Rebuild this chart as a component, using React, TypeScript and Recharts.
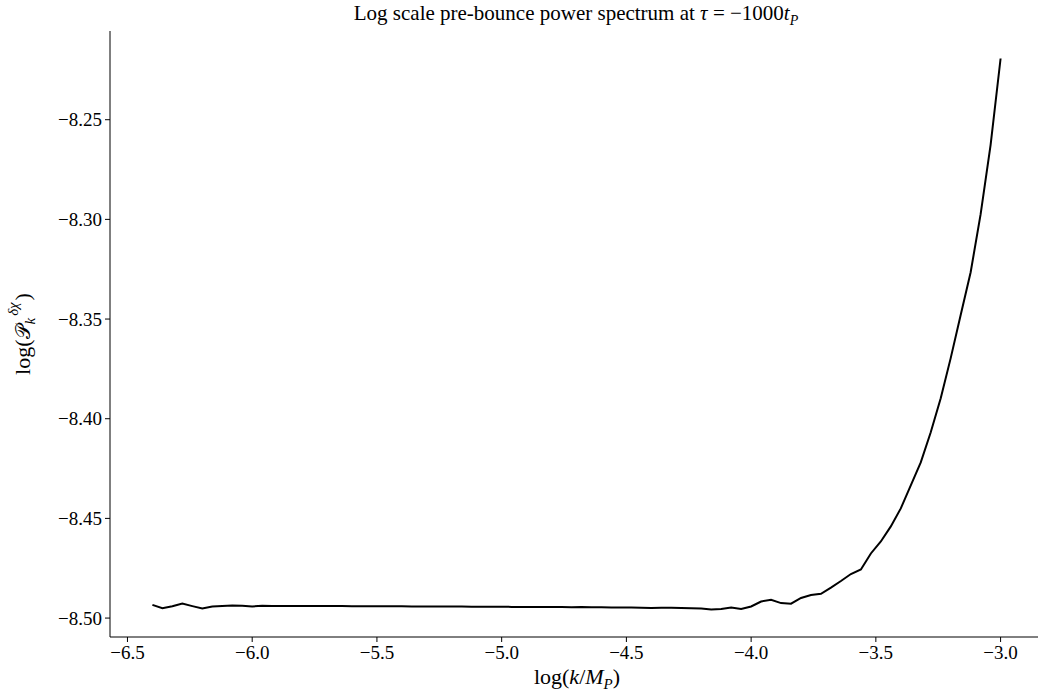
import React from 'react'
import { LineChart, Line, XAxis, YAxis } from 'recharts'

// log(k/M_P) sample points
const logK = [
  -6.4, -6.36, -6.32, -6.28, -6.24, -6.2, -6.16, -6.12, -6.08, -6.04,
  -6.0, -5.96, -5.92, -5.88, -5.84, -5.8, -5.76, -5.72, -5.68, -5.64,
  -5.6, -5.56, -5.52, -5.48, -5.44, -5.4, -5.36, -5.32, -5.28, -5.24,
  -5.2, -5.16, -5.12, -5.08, -5.04, -5.0, -4.96, -4.92, -4.88, -4.84,
  -4.8, -4.76, -4.72, -4.68, -4.64, -4.6, -4.56, -4.52, -4.48, -4.44,
  -4.4, -4.36, -4.32, -4.28, -4.24, -4.2, -4.16, -4.12, -4.08, -4.04,
  -4.0, -3.96, -3.92, -3.88, -3.84, -3.8, -3.76, -3.72, -3.68, -3.64,
  -3.6, -3.56, -3.52, -3.48, -3.44, -3.4, -3.36, -3.32, -3.28, -3.24,
  -3.2, -3.16, -3.12, -3.08, -3.04, -3.0,
]

// log of the power spectrum
const logPk = [
  -8.4934, -8.4951, -8.4941, -8.4927, -8.494, -8.4952, -8.4942, -8.4939, -8.4937, -8.4938,
  -8.4942, -8.4938, -8.4939, -8.494, -8.4939, -8.494, -8.494, -8.494, -8.494, -8.494,
  -8.4941, -8.4941, -8.4941, -8.4941, -8.4941, -8.4941, -8.4942, -8.4942, -8.4942, -8.4942,
  -8.4942, -8.4942, -8.4943, -8.4943, -8.4943, -8.4943, -8.4944, -8.4944, -8.4944, -8.4945,
  -8.4945, -8.4945, -8.4946, -8.4945, -8.4946, -8.4946, -8.4947, -8.4947, -8.4947, -8.4948,
  -8.4949, -8.4948, -8.4948, -8.495, -8.4951, -8.4952, -8.4957, -8.4955, -8.4947, -8.4955,
  -8.4942, -8.4917, -8.4908, -8.4925, -8.4928, -8.4899, -8.4884, -8.4878, -8.4847, -8.4814,
  -8.4779, -8.4756, -8.4676, -8.4616, -8.454, -8.445, -8.4334, -8.4219, -8.4068, -8.3897,
  -8.3696, -8.348, -8.3265, -8.2974, -8.2626, -8.2193,
]

const xTicks = [-6.5, -6.0, -5.5, -5.0, -4.5, -4.0, -3.5, -3.0]
const yTicks = [-8.5, -8.45, -8.4, -8.35, -8.3, -8.25]

const data = logK.map((k, i) => ({ k, p: logPk[i] }))

const FONT = '"Liberation Serif", "DejaVu Serif", serif'
const minus = (s: string) => s.replace('-', '\u2212')
const tickStyle = { fill: '#000', fontSize: 19, fontFamily: FONT }

export default function App() {
  return (
    <div
      style={{
        position: 'absolute',
        left: 0,
        top: 0,
        width: 1038,
        height: 693,
        overflow: 'hidden',
        background: '#fff',
        fontFamily: FONT,
        color: '#000',
      }}
    >
      <LineChart width={1046} height={693} data={data} margin={{ top: 31, right: 3, bottom: 0, left: 10 }}>
        <XAxis
          xAxisId="top"
          orientation="top"
          type="number"
          dataKey="k"
          domain={[-6.57, -2.83]}
          height={0}
          tick={false}
          tickLine={false}
          axisLine={{ stroke: '#000', strokeWidth: 1 }}
        />
        <XAxis
          type="number"
          dataKey="k"
          domain={[-6.57, -2.83]}
          ticks={xTicks}
          allowDataOverflow
          height={56}
          tickSize={5}
          tickMargin={4}
          tickLine={{ stroke: '#000' }}
          axisLine={{ stroke: '#000', strokeWidth: 1 }}
          tick={tickStyle}
          tickFormatter={(v: number) => minus(v.toFixed(1))}
        />
        <YAxis
          type="number"
          domain={[-8.5095, -8.2055]}
          ticks={yTicks}
          allowDataOverflow
          width={100}
          tickSize={5}
          tickMargin={3}
          tickLine={{ stroke: '#000' }}
          axisLine={{ stroke: '#000', strokeWidth: 1 }}
          tick={tickStyle}
          tickFormatter={(v: number) => minus(v.toFixed(2))}
        />
        <Line
          xAxisId={0}
          type="linear"
          dataKey="p"
          stroke="#000"
          strokeWidth={2}
          dot={false}
          isAnimationActive={false}
        />
      </LineChart>

      <div
        style={{
          position: 'absolute',
          left: 326,
          width: 500,
          top: 1,
          textAlign: 'center',
          fontSize: 21,
          lineHeight: '24px',
          whiteSpace: 'nowrap',
        }}
      >
        Log scale pre-bounce power spectrum at <i>τ</i> = −1000<i>t</i>
        <sub style={{ fontSize: 14 }}>
          <i>P</i>
        </sub>
      </div>

      <div
        style={{
          position: 'absolute',
          left: 477,
          width: 200,
          top: 665,
          textAlign: 'center',
          fontSize: 22,
          lineHeight: '24px',
          whiteSpace: 'nowrap',
        }}
      >
        log(<i>k</i>/<i>M</i>
        <sub style={{ fontSize: 15 }}>
          <i>P</i>
        </sub>
        )
      </div>

      <div
        style={{
          position: 'absolute',
          left: 23 - 100,
          top: 334 - 20,
          width: 200,
          height: 40,
          display: 'flex',
          alignItems: 'center',
          justifyContent: 'center',
          fontSize: 22,
          whiteSpace: 'nowrap',
          transform: 'rotate(-90deg)',
        }}
      >
        <span>log(</span>
        <span style={{ fontFamily: '"DejaVu Sans", serif', fontSize: 20 }}>𝒫</span>
        <span style={{ fontSize: 15, position: 'relative', top: 7, marginLeft: 1 }}>
          <i>k</i>
        </span>
        <span style={{ fontSize: 15, position: 'relative', top: -10, marginLeft: 2 }}>
          <i>δχ</i>
        </span>
        <span style={{ marginLeft: 2 }}>)</span>
      </div>
    </div>
  )
}
